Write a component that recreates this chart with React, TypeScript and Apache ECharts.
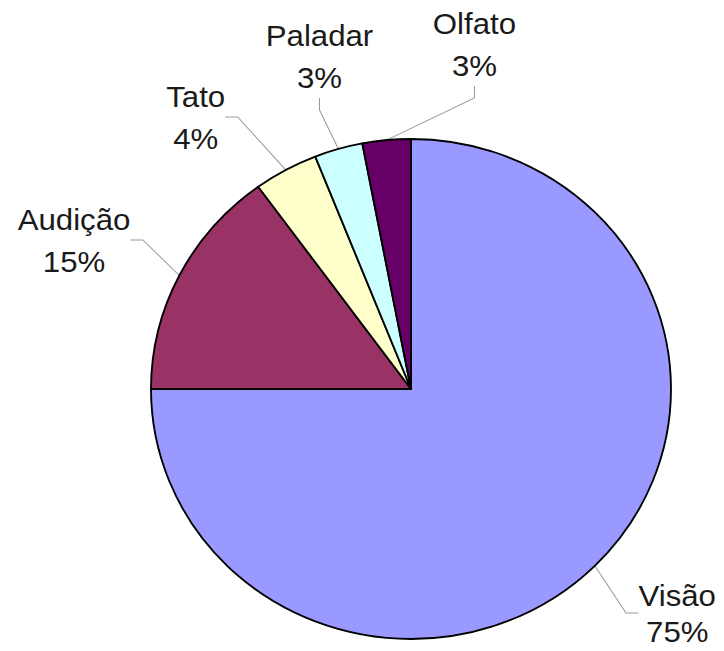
import React, { useEffect, useRef } from "react";
import * as echarts from "echarts";

const categories = ["Visão", "Audição", "Tato", "Paladar", "Olfato"];
const values = [75, 15, 4, 3, 3];
const colors = ["#9999FF", "#993366", "#FFFFCC", "#CCFFFF", "#660066"];
// label anchor centres (styling only, in the chart's unstretched frame)
const labelPos = [
  [667, 613],
  [87, 240],
  [204, 117],
  [323, 56],
  [472, 44],
];
const labelLineHeights = [36, 42, 42, 42, 42];

export default function App() {
  const ref = useRef<HTMLDivElement>(null);
  useEffect(() => {
    if (!ref.current) return;
    const chart = echarts.init(ref.current, undefined, { renderer: "svg" });
    chart.setOption({
      animation: false,
      backgroundColor: "#ffffff",
      series: [
        {
          type: "pie",
          center: [411, 389],
          radius: 250,
          startAngle: 90,
          clockwise: true,
          data: categories.map((c, i) => ({
            name: c,
            value: values[i],
            itemStyle: { color: colors[i] },
            label: { lineHeight: labelLineHeights[i] },
          })),
          itemStyle: { borderColor: "#000", borderWidth: 1.8 },
          label: {
            show: true,
            position: "outside",
            formatter: "{b}\n{c}%",
            fontFamily: "Liberation Sans, Arial, sans-serif",
            fontSize: 30,
            lineHeight: 42,
            color: "#1a1a1a",
          },
          labelLine: {
            show: true,
            length: 30,
            length2: 12,
            lineStyle: { color: "#999", width: 1 },
          },
          labelLayout: (params: any) => {
            const p = labelPos[params.dataIndex];
            return { x: p[0], y: p[1], align: "center", verticalAlign: "middle" };
          },
          emphasis: { disabled: true },
        },
      ],
    });
    return () => chart.dispose();
  }, []);
  return (
    <div
      ref={ref}
      style={{
        position: "fixed",
        left: 0,
        top: 0,
        width: 724,
        height: 651,
        transform: "scaleX(1.04)",
        transformOrigin: "411px 389px",
      }}
    />
  );
}
